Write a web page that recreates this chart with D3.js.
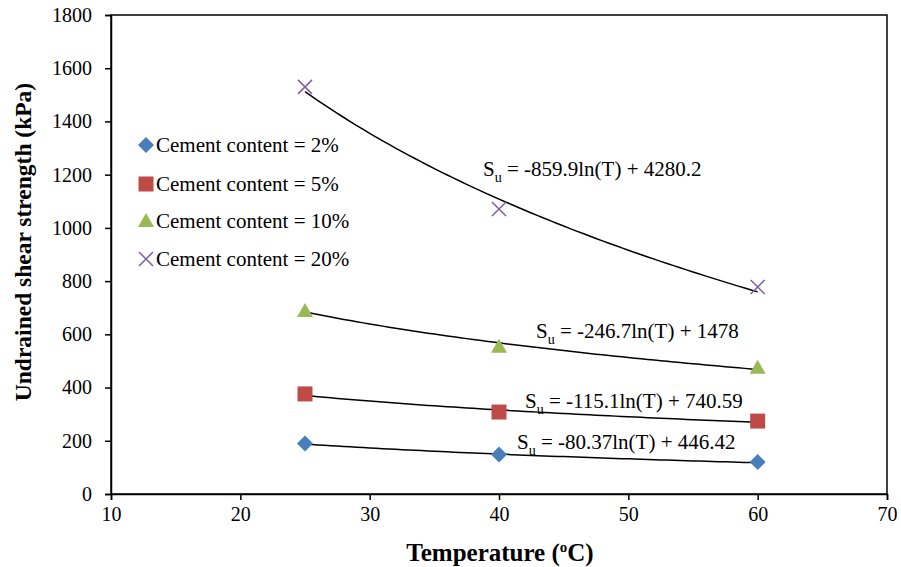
<!DOCTYPE html>
<html>
<head>
<meta charset="utf-8">
<script src="https://cdn.jsdelivr.net/npm/d3@7"></script>
<style>
  body { margin: 0; background: #fff; }
  text { font-family: "Liberation Serif", "Times New Roman", serif; }
</style>
</head>
<body>
<svg id="chart" width="901" height="567"></svg>
<script>
// data
const temps = [25, 40, 60]
const seriesNames = ["Cement content = 2%", "Cement content = 5%", "Cement content = 10%", "Cement content = 20%"]
const su2 = [190, 148, 120]
const su5 = [376, 308, 274]
const su10 = [688, 553, 474]
const su20 = [1530, 1071, 778]
// trendline coefficients a*ln(T)+b, as printed on the chart
const trendA = [-80.37, -115.1, -246.7, -859.9]
const trendB = [446.42, 740.59, 1478, 4280.2]
const trendText = ["-80.37ln(T) + 446.42", "-115.1ln(T) + 740.59", "-246.7ln(T) + 1478", "-859.9ln(T) + 4280.2"]
const xTicks = [10, 20, 30, 40, 50, 60, 70]
const yTicks = [0, 200, 400, 600, 800, 1000, 1200, 1400, 1600, 1800]

const colors = ["#4A7EBB", "#BE4B48", "#98B954", "#7D60A0"]
const shapes = ["diamond", "square", "triangle", "cross"]
// where each equation sits (pixel x start, baseline y)
const labelPos = [[517, 449], [525, 408], [536, 338], [483, 176]]

const svg = d3.select("#chart")
const margin = {left: 111, right: 14, top: 15, bottom: 73}
const width = 901 - margin.left - margin.right
const height = 567 - margin.top - margin.bottom

const xscale = d3.scaleLinear().domain([10, 70]).range([margin.left, margin.left + width])
const yscale = d3.scaleLinear().domain([0, 1800]).range([margin.top + height, margin.top])

// frame
svg.append("rect")
    .attr("x", margin.left).attr("y", margin.top)
    .attr("width", width).attr("height", height)
    .attr("fill", "none").attr("stroke", "#000").attr("stroke-width", 1.5)

const xaxis = d3.axisBottom(xscale).tickValues(xTicks).tickFormat(d3.format("d")).tickSize(6).tickPadding(7)
svg.append("g")
    .attr("transform", `translate(0,${margin.top + height})`)
    .call(xaxis)
    .call(g => g.select(".domain").attr("stroke-width", 1.5))
    .call(g => g.selectAll("line").attr("stroke-width", 1.5))
    .call(g => g.selectAll("text").attr("font-size", 20).attr("fill", "#000"))

const yaxis = d3.axisLeft(yscale).tickValues(yTicks).tickFormat(d3.format("d")).tickSize(6).tickPadding(13)
svg.append("g")
    .attr("transform", `translate(${margin.left},0)`)
    .call(yaxis)
    .call(g => g.select(".domain").attr("stroke-width", 1.5))
    .call(g => g.selectAll("line").attr("stroke-width", 1.5))
    .call(g => g.selectAll("text").attr("font-size", 20).attr("fill", "#000"))

// axis titles
const xt = svg.append("text")
    .attr("x", 500).attr("y", 561)
    .attr("text-anchor", "middle")
    .attr("font-size", 25).attr("font-weight", "bold")
xt.append("tspan").text("Temperature (")
xt.append("tspan").attr("dy", -9).attr("font-size", 15).text("o")
xt.append("tspan").attr("dy", 9).text("C)")

svg.append("text")
    .attr("transform", "translate(31,242) rotate(-90)")
    .attr("text-anchor", "middle")
    .attr("font-size", 23.5).attr("font-weight", "bold")
    .text("Undrained shear strength (kPa)")

// trendlines
const line = d3.line().x(d => xscale(d[0])).y(d => yscale(d[1]))
trendA.forEach((a, i) => {
    const pts = d3.range(25, 60.01, 0.5).map(t => [t, a * Math.log(t) + trendB[i]])
    svg.append("path")
        .attr("d", line(pts))
        .attr("fill", "none").attr("stroke", "#000").attr("stroke-width", 1.5)
})

function marker(g, shape, color, cx, cy) {
    if (shape === "diamond") {
        g.append("path").attr("d", `M${cx},${cy - 8}L${cx + 8},${cy}L${cx},${cy + 8}L${cx - 8},${cy}Z`).attr("fill", color)
    } else if (shape === "square") {
        g.append("rect").attr("x", cx - 7.5).attr("y", cy - 7.5).attr("width", 15).attr("height", 15).attr("fill", color)
    } else if (shape === "triangle") {
        g.append("path").attr("d", `M${cx},${cy - 8}L${cx + 8},${cy + 6}L${cx - 8},${cy + 6}Z`).attr("fill", color)
    } else {
        g.append("path").attr("d", `M${cx - 7},${cy - 7}L${cx + 7},${cy + 7}M${cx - 7},${cy + 7}L${cx + 7},${cy - 7}`)
            .attr("stroke", color).attr("stroke-width", 1.5).attr("fill", "none")
    }
}

const allSeries = [su2, su5, su10, su20]
allSeries.forEach((vals, i) => {
    const g = svg.append("g")
    vals.forEach((v, j) => marker(g, shapes[i], colors[i], xscale(temps[j]), yscale(v)))
})

// equations
trendText.forEach((t, i) => {
    const tx = svg.append("text")
        .attr("x", labelPos[i][0]).attr("y", labelPos[i][1])
        .attr("font-size", 21)
    tx.append("tspan").text("S")
    tx.append("tspan").attr("font-size", 14).attr("dy", 6).text("u")
    tx.append("tspan").attr("dy", -6).text(" = " + t)
})

// legend
const legendY = [145, 184, 221, 259]
seriesNames.forEach((name, i) => {
    const g = svg.append("g")
    marker(g, shapes[i], colors[i], 146, legendY[i])
    g.append("text")
        .attr("x", 156).attr("y", legendY[i] + 7)
        .attr("font-size", 21)
        .text(name)
})
</script>
</body>
</html>
